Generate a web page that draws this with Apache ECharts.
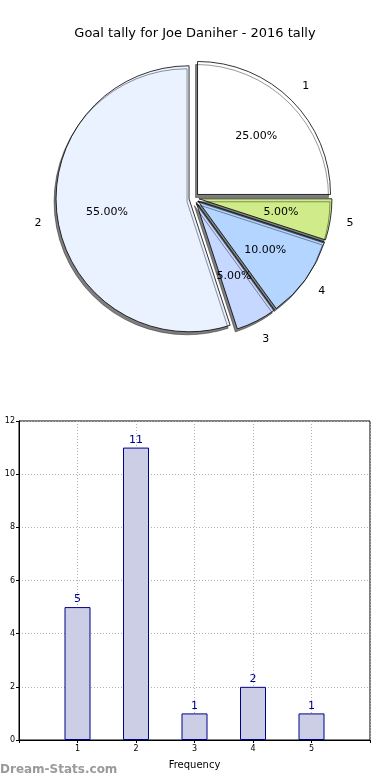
<!DOCTYPE html>
<html><head><meta charset="utf-8">
<script src="https://cdn.jsdelivr.net/npm/echarts@6/dist/echarts.min.js"></script>
<style>html,body{margin:0;padding:0;background:#fff}#c{width:390px;height:780px}</style>
</head><body><div id="c"></div>
<script>
const categories = ['1', '2', '3', '4', '5'];
const values = [5, 11, 1, 2, 1];
const sliceColors = ['#ffffff', '#eaf1ff', '#c6d8ff', '#b3d5ff', '#d0ec8a'];
const yTicks = [0, 2, 4, 6, 8, 10, 12];
const titleText = 'Goal tally for Joe Daniher - 2016 tally';

const chart = echarts.init(document.getElementById('c'), null, {renderer: 'canvas'});
const total = values.reduce((a, b) => a + b, 0);
const pieData = categories.map((c, i) => ({name: c, value: values[i], selected: true, itemStyle: {color: sliceColors[i]}}));
const plainData = categories.map((c, i) => ({name: c, value: values[i]}));
const font = 'DejaVu Sans';
const center = [194, 198];

chart.setOption({
  animation: false,
  title: {text: titleText, left: 'center', top: 22, textStyle: {fontFamily: font, fontSize: 13, fontWeight: 'normal', color: '#000'}},
  graphic: [{type: 'text', left: 0, top: 764, style: {text: 'Dream-Stats.com', fill: '#9a9a9a', font: 'bold 12px "DejaVu Sans"'}}],
  grid: {left: 19, right: 20, top: 421, bottom: 40, containLabel: false, outerBoundsMode: 'none', show: true, borderColor: '#000', borderWidth: 1},
  xAxis: {
    type: 'value', min: 0, max: 6, interval: 1,
    name: 'Frequency', nameLocation: 'middle', nameGap: 20,
    nameTextStyle: {fontFamily: font, fontSize: 10, color: '#000'},
    axisLine: {show: true, lineStyle: {color: '#000'}},
    axisTick: {show: true, length: 3, lineStyle: {color: '#000'}},
    axisLabel: {fontFamily: font, fontSize: 8, color: '#000', margin: 5,
      formatter: v => (categories.indexOf(String(v)) >= 0 ? String(v) : '')},
    splitLine: {show: true, lineStyle: {color: '#b0b0b0', type: [1, 2]}}
  },
  yAxis: {
    type: 'value', min: yTicks[0], max: yTicks[yTicks.length - 1], interval: 2,
    name: 'Goal tally', nameLocation: 'middle', nameGap: 19,
    nameTextStyle: {fontFamily: font, fontSize: 10, color: '#000'},
    axisLine: {show: true, lineStyle: {color: '#000'}},
    axisTick: {show: true, length: 3, lineStyle: {color: '#000'}},
    axisLabel: {fontFamily: font, fontSize: 8, color: '#000', margin: 4},
    splitLine: {show: true, lineStyle: {color: '#b0b0b0', type: [1, 2]}}
  },
  series: [
    {
      type: 'bar', barWidth: 26,
      data: categories.map((c, i) => [Number(c), values[i]]),
      itemStyle: {color: '#ccceE6', borderColor: '#00008b', borderWidth: 1},
      label: {show: true, position: 'top', distance: 2, fontFamily: font, fontSize: 11, color: '#00008b',
        formatter: p => String(p.value[1])}
    },
    {
      type: 'pie', center: center, radius: 133, startAngle: 0, clockwise: false,
      selectedMode: 'multiple', selectedOffset: 5, avoidLabelOverlap: false,
      data: pieData,
      label: {show: false}, labelLine: {show: false},
      emphasis: {disabled: true},
      itemStyle: {borderColor: '#000', borderWidth: 0.8, shadowColor: 'rgba(0,0,0,0.5)', shadowOffsetX: -2, shadowOffsetY: 3, shadowBlur: 0}
    },
    {
      type: 'pie', center: center, radius: 170, startAngle: 0, clockwise: false, silent: true,
      data: plainData, z: 5,
      itemStyle: {color: 'rgba(0,0,0,0)', borderWidth: 0},
      label: {show: true, position: 'inside', fontFamily: font, fontSize: 11, color: '#000',
        formatter: p => (p.value / total * 100).toFixed(2) + '%'},
      labelLine: {show: false}, emphasis: {disabled: true}
    },
    {
      type: 'pie', center: center, radius: 310, startAngle: 0, clockwise: false, silent: true,
      data: plainData, z: 5,
      itemStyle: {color: 'rgba(0,0,0,0)', borderWidth: 0},
      label: {show: true, position: 'inside', fontFamily: font, fontSize: 11, color: '#000', formatter: p => p.name},
      labelLine: {show: false}, emphasis: {disabled: true}
    }
  ]
});
</script></body></html>
